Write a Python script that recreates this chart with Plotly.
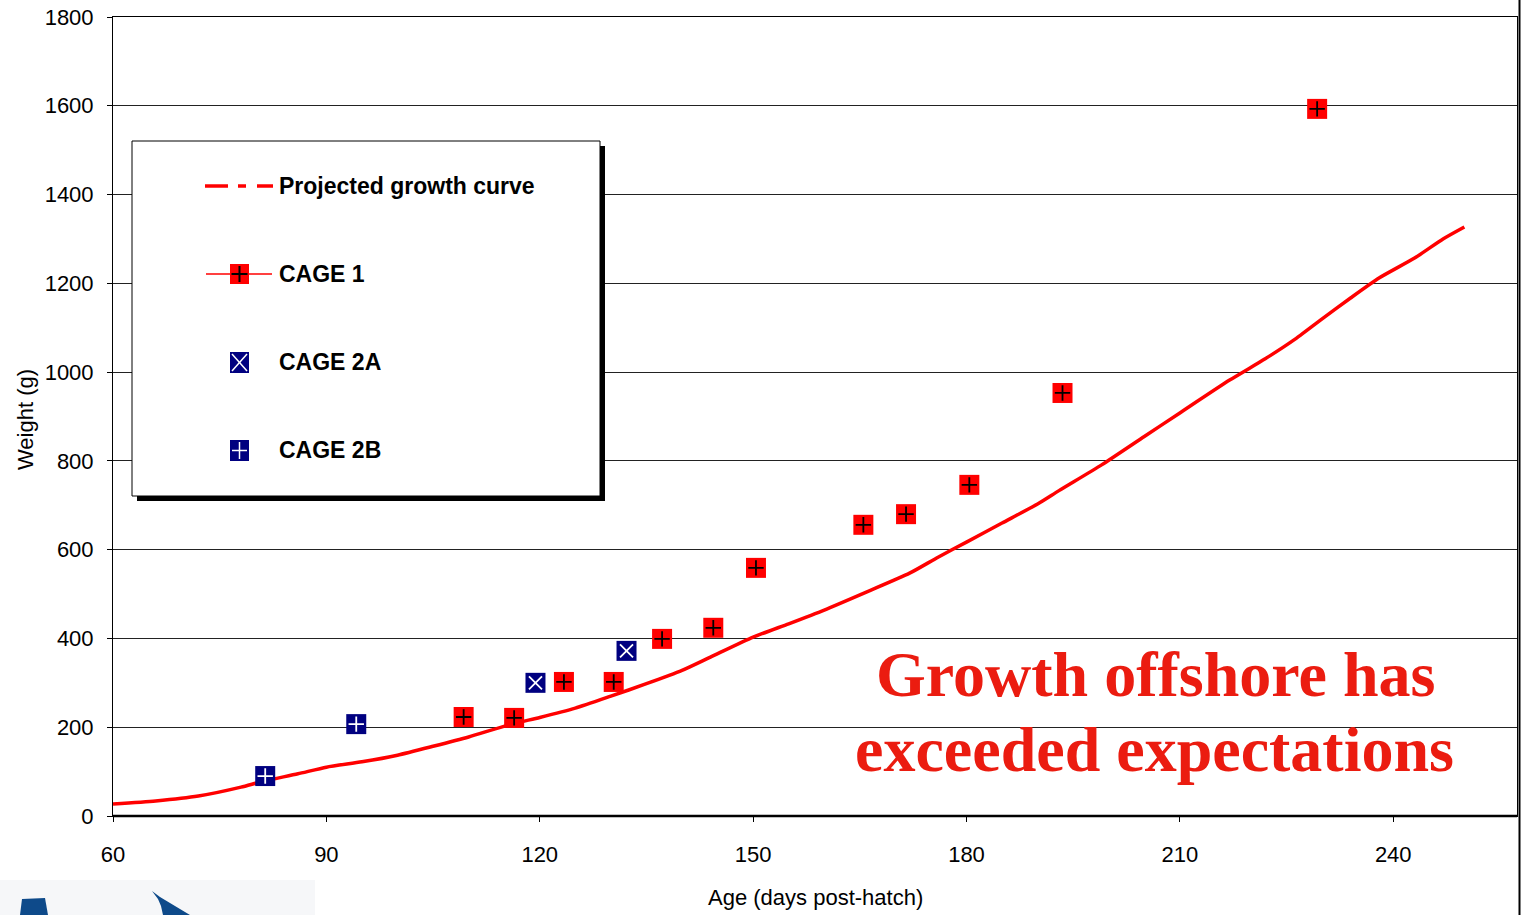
import plotly.graph_objects as go

# Projected growth curve (age in days post-hatch, weight in grams)
curve_age = [60, 66, 72, 78, 81, 86, 90, 95, 100, 105, 110, 116, 120, 125, 130, 135, 140,
             144, 150, 155, 160, 166, 172, 176, 180, 185, 190, 193, 199, 205, 210, 217,
             222, 226, 230, 234, 238, 243, 247, 250]
curve_weight = [27, 34, 45, 65, 78, 95, 110, 122, 137, 157, 178, 207, 222, 243, 270, 298, 328,
                358, 403, 433, 464, 505, 547, 583, 617, 660, 703, 733, 791, 855, 908, 982,
                1030, 1072, 1120, 1167, 1212, 1257, 1300, 1327]

# Observed sample weights
cage1_age = [109.3, 116.4, 123.4, 130.4, 137.2, 144.4, 150.4, 165.5, 171.5, 180.4, 193.5, 229.3]
cage1_weight = [223, 221, 302, 302, 399, 424, 559, 656, 680, 746, 953, 1593]

cage2a_age = [119.4, 132.2]
cage2a_weight = [300, 372]

cage2b_age = [81.4, 94.2]
cage2b_weight = [90, 207]

x_ticks = [60, 90, 120, 150, 180, 210, 240]
y_ticks = [0, 200, 400, 600, 800, 1000, 1200, 1400, 1600, 1800]

RED = "#FF0000"
NAVY = "#000080"
W, H = 1521, 915
L, R, T, B = 113, 1517, 17, 816


def px(x):
    return (x - L) / (R - L)


def py(y):
    return (B - y) / (B - T)


fig = go.Figure()

fig.add_trace(go.Scatter(x=curve_age, y=curve_weight, mode="lines",
                         line=dict(color=RED, width=3.5, shape="spline", smoothing=0.6),
                         name="Projected growth curve"))


def square_series(xs, ys, fill, glyph, glyph_color, name, glyph_size):
    fig.add_trace(go.Scatter(x=xs, y=ys, mode="markers", name=name,
                             marker=dict(symbol="square", size=20, color=fill,
                                         line=dict(width=0))))
    fig.add_trace(go.Scatter(x=xs, y=ys, mode="markers", name=name, hoverinfo="skip",
                             marker=dict(symbol=glyph, size=glyph_size, color=glyph_color,
                                         line=dict(width=1.8, color=glyph_color))))


square_series(cage1_age, cage1_weight, RED, "cross-thin", "black", "CAGE 1", 11)
square_series(cage2a_age, cage2a_weight, NAVY, "x-thin", "white", "CAGE 2A", 13)
square_series(cage2b_age, cage2b_weight, NAVY, "cross-thin", "white", "CAGE 2B", 11)

shapes = []


def rect(x0, y0, x1, y1, fill, line_color=None, lw=0):
    shapes.append(dict(type="rect", xref="paper", yref="paper",
                       x0=px(x0), x1=px(x1), y0=py(y1), y1=py(y0),
                       fillcolor=fill, line=dict(color=line_color or fill, width=lw),
                       layer="above"))


def seg(x0, y0, x1, y1, color, lw):
    shapes.append(dict(type="line", xref="paper", yref="paper",
                       x0=px(x0), x1=px(x1), y0=py(y0), y1=py(y1),
                       line=dict(color=color, width=lw), layer="above"))


# Legend box with drop shadow
rect(137, 146, 605, 501, "black")
rect(132, 141, 600, 496, "white", "black", 1)

# Legend entry: projected curve (dash-dot sample)
seg(205, 186, 228, 186, RED, 3.5)
seg(238, 186, 246, 186, RED, 3.5)
seg(257, 186, 273, 186, RED, 3.5)

# Legend entry: CAGE 1
seg(206, 274, 272, 274, RED, 1.5)
rect(230, 264, 249, 284, RED)
seg(239.5, 266, 239.5, 282, "black", 2)
seg(231.5, 274, 247.5, 274, "black", 2)

# Legend entry: CAGE 2A
rect(230, 352, 249, 373, NAVY)
seg(232, 354, 247, 371, "white", 1.5)
seg(232, 371, 247, 354, "white", 1.5)

# Legend entry: CAGE 2B
rect(230, 440, 249, 461, NAVY)
seg(239.5, 442, 239.5, 459, "white", 1.5)
seg(232, 450.5, 247, 450.5, "white", 1.5)

# Frame details
seg(L, B, R, B, "black", 2.5)
seg(1519.5, 0, 1519.5, H, "black", 2)

# Logo strip at bottom-left
rect(0, 880, 315, 915, "#F6F7F9")


def path(points):
    d = "M " + " L ".join(f"{px(x):.5f},{py(y):.5f}" for x, y in points) + " Z"
    shapes.append(dict(type="path", xref="paper", yref="paper", path=d,
                       fillcolor="#0E4A8A", line=dict(width=0), layer="above"))


path([(22, 899), (45, 898), (48, 915), (20, 915)])
path([(152, 891), (160, 897), (170, 903), (180, 909), (190, 915), (163, 915),
      (161, 906), (158, 899)])

annotations = []
legend_font = dict(family="Liberation Sans, Arial, sans-serif", size=23, color="black")
for label, y in [("<b>Projected growth curve</b>", 186), ("<b>CAGE 1</b>", 274),
                 ("<b>CAGE 2A</b>", 362), ("<b>CAGE 2B</b>", 450)]:
    annotations.append(dict(text=label, xref="paper", yref="paper", x=px(277), y=py(y),
                            xanchor="left", yanchor="middle", showarrow=False,
                            font=legend_font))

msg_font = dict(family="Liberation Serif, Times New Roman, serif", size=64, color="#EB1C10")
annotations.append(dict(text="<b>Growth offshore has</b>", xref="paper", yref="paper",
                        x=px(1155), y=py(674), xanchor="center", yanchor="middle",
                        showarrow=False, font=msg_font))
annotations.append(dict(text="<b>exceeded expectations</b>", xref="paper", yref="paper",
                        x=px(1154), y=py(749), xanchor="center", yanchor="middle",
                        showarrow=False, font=msg_font))

axis_font = dict(family="Liberation Sans, Arial, sans-serif", size=22, color="black")
annotations.append(dict(text="Age (days post-hatch)", xref="paper", yref="paper",
                        x=px(815), y=py(898), xanchor="center", yanchor="middle",
                        showarrow=False, font=axis_font))
annotations.append(dict(text="Weight (g)", xref="paper", yref="paper",
                        x=px(25), y=py(420), xanchor="center", yanchor="middle",
                        textangle=-90, showarrow=False, font=axis_font))

fig.update_layout(
    width=W, height=H,
    margin=dict(l=L, r=W - R, t=T, b=H - B),
    paper_bgcolor="white", plot_bgcolor="white",
    showlegend=False,
    shapes=shapes, annotations=annotations,
    font=axis_font,
    xaxis=dict(range=[60, 257.4], tickvals=x_ticks, ticks="outside", ticklen=5,
               tickcolor="black", showgrid=False, zeroline=False,
               showline=True, linecolor="black", linewidth=1, mirror=True,
               ticklabelstandoff=14, tickfont=axis_font),
    yaxis=dict(range=[0, 1800], tickvals=y_ticks, ticks="outside", ticklen=5,
               tickcolor="black", showgrid=True, gridcolor="#222222", gridwidth=1,
               zeroline=False, showline=True, linecolor="black", linewidth=1,
               mirror=True, ticklabelstandoff=9, tickfont=axis_font),
)

fig.write_html("out.html")
